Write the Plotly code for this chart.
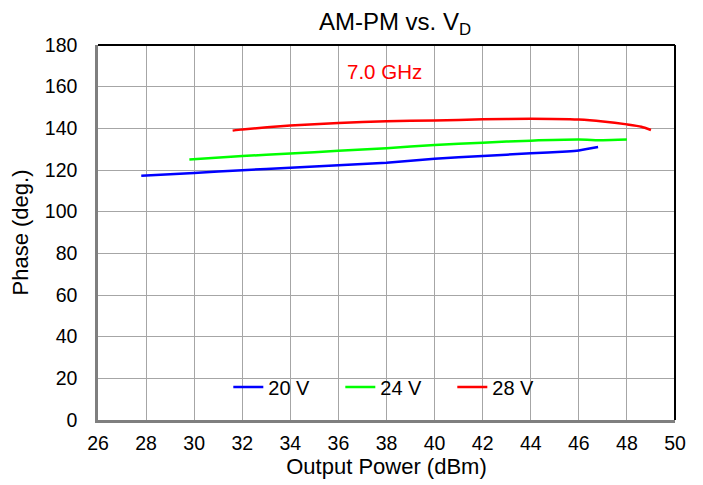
import plotly.graph_objects as go

pout_20v = [27.8, 30, 32, 34, 36, 38, 40, 42, 44, 45.5, 46, 46.8]
phase_20v = [117.3, 118.6, 119.9, 121.1, 122.3, 123.5, 125.4, 126.7, 128.0, 128.9, 129.4, 131.0]

pout_24v = [29.8, 32, 34, 36, 38, 40, 42, 44, 46, 47, 48]
phase_24v = [125.1, 126.7, 127.9, 129.2, 130.5, 132.0, 133.1, 134.1, 134.6, 134.3, 134.6]

pout_28v = [31.6, 32, 34, 36, 38, 40, 42, 44, 46, 47, 48, 48.6, 49.0]
phase_28v = [138.9, 139.5, 141.3, 142.6, 143.4, 143.8, 144.3, 144.6, 144.2, 143.3, 141.9, 140.8, 139.2]

series = [
    ("20 V", pout_20v, phase_20v, "#0000FF"),
    ("24 V", pout_24v, phase_24v, "#00FF00"),
    ("28 V", pout_28v, phase_28v, "#FF0000"),
]

x_ticks = list(range(26, 51, 2))
y_ticks = list(range(0, 181, 20))

FONT = "Liberation Sans, Arial, sans-serif"

# page body has an 8px margin; plot area targeted at page x 97.5..675, y 45..420
L, T, PW, PH = 89.5, 37, 577.5, 375
W, H = 703, 485

fig = go.Figure()
for name, xs, ys, color in series:
    fig.add_trace(go.Scatter(x=xs, y=ys, mode="lines", name=name,
                             line=dict(color=color, width=2.5, shape="spline", smoothing=0.6)))

fig.update_layout(
    width=W, height=H,
    margin=dict(l=L, r=W - L - PW, t=T, b=H - T - PH, autoexpand=False),
    paper_bgcolor="white", plot_bgcolor="white",
    font=dict(family=FONT, size=19.5, color="black"),
    title=dict(text="AM-PM vs. V<sub>D</sub>", x=387 / W, xanchor="center",
               y=1 - 14 / H, yanchor="middle", font=dict(size=24, family=FONT, color="black")),
    showlegend=True,
    legend=dict(orientation="h", x=0.517, xanchor="center", y=0.088, yanchor="middle",
                bgcolor="rgba(255,255,255,0)", font=dict(size=20, family=FONT),
                entrywidth=67, entrywidthmode="pixels", itemwidth=30,
                borderwidth=0),
    xaxis=dict(range=[26, 50], tickvals=x_ticks, ticktext=[str(v) for v in x_ticks],
               showgrid=True, gridcolor="#A6A6A6", gridwidth=1.3,
               showline=True, linecolor="#7F7F7F", linewidth=2.5,
               zeroline=False, ticks="", ticklen=0, automargin=False,
               ticklabelstandoff=4,
               title=dict(text="Output Power (dBm)", font=dict(size=22, family=FONT), standoff=4),
               tickfont=dict(size=19.5, family=FONT)),
    yaxis=dict(range=[0, 180], tickvals=y_ticks, ticktext=[str(v) for v in y_ticks],
               showgrid=True, gridcolor="#A6A6A6", gridwidth=1.3,
               showline=True, linecolor="#7F7F7F", linewidth=2.5,
               zeroline=False, ticks="", ticklen=0, automargin=False,
               ticklabelstandoff=14,
               title=dict(text="Phase (deg.)", font=dict(size=22, family=FONT), standoff=12),
               tickfont=dict(size=19.5, family=FONT)),
)

# White legend box that hides the gridlines behind it
fig.add_shape(type="rect", xref="paper", yref="paper", x0=0.172, x1=0.827, y0=0.019, y1=0.173,
              line=dict(width=0), fillcolor="white", layer="between")

# Top and right frame lines (black)
fig.add_shape(type="line", xref="paper", yref="paper", x0=0, x1=1, y0=1, y1=1,
              line=dict(color="black", width=2))
fig.add_shape(type="line", xref="paper", yref="paper", x0=1, x1=1, y0=0, y1=1,
              line=dict(color="black", width=2))

fig.add_annotation(text="7.0 GHz", x=37.9, y=167.3, xref="x", yref="y", showarrow=False,
                   font=dict(size=20.5, color="#FF0000", family=FONT))

fig.write_html("out.html")
